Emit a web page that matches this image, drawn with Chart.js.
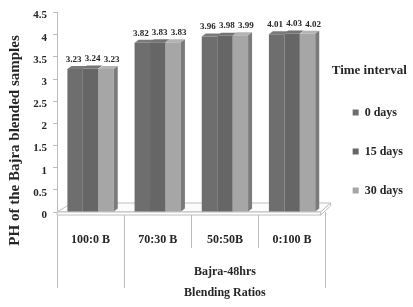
<!DOCTYPE html>
<html>
<head>
<meta charset="utf-8">
<script src="https://cdn.jsdelivr.net/npm/chart.js@4.4.1/dist/chart.umd.min.js"></script>
<style>
  html, body { margin: 0; padding: 0; background: #ffffff; }
  #wrap { width: 413px; height: 307px; position: relative; }
</style>
</head>
<body>
<div id="wrap"><canvas id="c" width="413" height="307"></canvas></div>
<script>
// ---- data ----
const categories = ['100:0 B', '70:30 B', '50:50B', '0:100 B'];
const groupLabels = ['', '', 'Bajra-48hrs', ''];
const axisTitleRow = ['', '', 'Blending Ratios', ''];
const seriesNames = ['0 days', '15 days', '30 days'];
const days0 = [3.23, 3.82, 3.96, 4.01];
const days15 = [3.24, 3.83, 3.98, 4.03];
const days30 = [3.23, 3.83, 3.99, 4.02];
const yTitle = 'PH of the Bajra blended samples';
const legendTitle = 'Time interval';

const FONT = 'Liberation Serif';
const TXT = '#262626';
const LINE = '#bdbdbd';
const frontColors = ['#6e6e6e', '#666666', '#a6a6a6'];
const topColors = ['#7a7a7a', '#737373', '#b3b3b3'];
const sideColor = '#7b7b7b';

const floorPlugin = {
  id: 'floor3d',
  beforeDatasetsDraw(chart) {
    const { ctx, chartArea } = chart;
    const y0 = chart.scales.y.getPixelForValue(0);
    const L = chartArea.left, R = chartArea.right;
    ctx.save();
    ctx.strokeStyle = LINE;
    ctx.lineWidth = 1;
    ctx.fillStyle = '#fcfcfc';
    ctx.beginPath();
    ctx.moveTo(L, y0); ctx.lineTo(L + 15, y0 - 9); ctx.lineTo(R + 5, y0 - 9); ctx.lineTo(R - 5, y0);
    ctx.closePath(); ctx.fill(); ctx.stroke();
    ctx.beginPath();
    ctx.rect(L, y0, R - 5 - L, 3);
    ctx.fillStyle = '#ffffff'; ctx.fill(); ctx.stroke();
    ctx.beginPath();
    ctx.moveTo(R - 5, y0); ctx.lineTo(R + 5, y0 - 9); ctx.lineTo(R + 5, y0 - 6); ctx.lineTo(R - 5, y0 + 3);
    ctx.closePath(); ctx.fill(); ctx.stroke();
    ctx.restore();
  }
};

const barsPlugin = {
  id: 'bars3d',
  afterDatasetsDraw(chart) {
    const { ctx } = chart;
    const dx = 4, dy = 3;
    const n = chart.data.datasets.length;
    ctx.save();
    chart.data.datasets.forEach((ds, di) => {
      const meta = chart.getDatasetMeta(di);
      meta.data.forEach((bar) => {
        const w = bar.width, x1 = bar.x - w / 2, x2 = bar.x + w / 2, top = bar.y, base = bar.base;
        ctx.fillStyle = topColors[di];
        ctx.beginPath();
        ctx.moveTo(x1, top); ctx.lineTo(x2, top); ctx.lineTo(x2 + dx, top - dy); ctx.lineTo(x1 + dx, top - dy);
        ctx.closePath(); ctx.fill();
        if (di === n - 1) {
          ctx.fillStyle = sideColor;
          ctx.beginPath();
          ctx.moveTo(x2, top); ctx.lineTo(x2 + dx, top - dy); ctx.lineTo(x2 + dx, base - dy); ctx.lineTo(x2, base);
          ctx.closePath(); ctx.fill();
        }
      });
    });
    // value labels
    ctx.fillStyle = TXT;
    ctx.font = 'bold 9px "' + FONT + '"';
    ctx.textAlign = 'center';
    ctx.textBaseline = 'bottom';
    chart.data.datasets.forEach((ds, di) => {
      const meta = chart.getDatasetMeta(di);
      meta.data.forEach((bar, i) => {
        ctx.fillText(ds.data[i].toFixed(2), bar.x + 2 + (di - 1) * 3.5, bar.y - 5);
      });
    });
    ctx.restore();
  }
};

new Chart(document.getElementById('c'), {
  type: 'bar',
  data: {
    labels: categories,
    datasets: [
      { label: seriesNames[0], data: days0, backgroundColor: frontColors[0], borderWidth: 0 },
      { label: seriesNames[1], data: days15, backgroundColor: frontColors[1], borderWidth: 0 },
      { label: seriesNames[2], data: days30, backgroundColor: frontColors[2], borderWidth: 0 }
    ]
  },
  plugins: [floorPlugin, barsPlugin],
  options: {
    responsive: false,
    animation: false,
    devicePixelRatio: 1,
    layout: { padding: { left: 4, top: 12, right: 0, bottom: 7 } },
    datasets: { bar: { categoryPercentage: 0.69, barPercentage: 1.0 } },
    plugins: {
      tooltip: { enabled: false },
      legend: {
        position: 'right',
        align: 'start',
        labels: {
          boxWidth: 6, boxHeight: 6, padding: 27, color: TXT,
          font: { family: FONT, size: 12, weight: 'bold' }
        },
        title: {
          display: true, text: legendTitle, color: TXT,
          padding: { top: 52, bottom: 0 },
          font: { family: FONT, size: 13, weight: 'bold' }
        }
      }
    },
    scales: {
      y: {
        min: 0, max: 4.5,
        afterFit: (s) => { s.width = 53; },
        ticks: { stepSize: 0.5, padding: 6, labelOffset: 3, color: TXT, font: { family: FONT, size: 11, weight: 'bold' },
                 callback: (v) => String(Number(v)) },
        grid: { drawOnChartArea: false, drawTicks: true, tickLength: 4, color: LINE },
        border: { display: true, color: LINE },
        title: { display: true, text: yTitle + '               ', color: TXT, padding: { top: 2, bottom: 12 }, font: { family: FONT, size: 15, weight: 'bold' } }
      },
      x: {
        weight: 0,
        afterFit: (s) => { s.height = 36; },
        ticks: { padding: -15, color: TXT, font: { family: FONT, size: 12, weight: 'bold' } },
        grid: { offset: true, drawOnChartArea: false, drawTicks: true, tickLength: 36, color: LINE },
        border: { display: false }
      },
      x2: {
        type: 'category', position: 'bottom', weight: 1,
        labels: groupLabels,
        afterFit: (s) => { s.height = 31; },
        ticks: { padding: -23, autoSkip: false, maxRotation: 0, color: TXT, font: { family: FONT, size: 12, weight: 'bold' } },
        grid: {
          offset: true, drawOnChartArea: false, drawTicks: true, tickLength: 40,
          color: (c) => (c.index === 2 || c.index === 3) ? 'rgba(0,0,0,0)' : LINE
        },
        border: { display: false }
      },
      x3: {
        type: 'category', position: 'bottom', weight: 2,
        labels: axisTitleRow,
        afterFit: (s) => { s.height = 21; },
        ticks: { padding: 7, autoSkip: false, maxRotation: 0, color: TXT, font: { family: FONT, size: 12, weight: 'bold' } },
        grid: { display: false, drawTicks: false },
        border: { display: false }
      }
    }
  }
});
</script>
</body>
</html>
